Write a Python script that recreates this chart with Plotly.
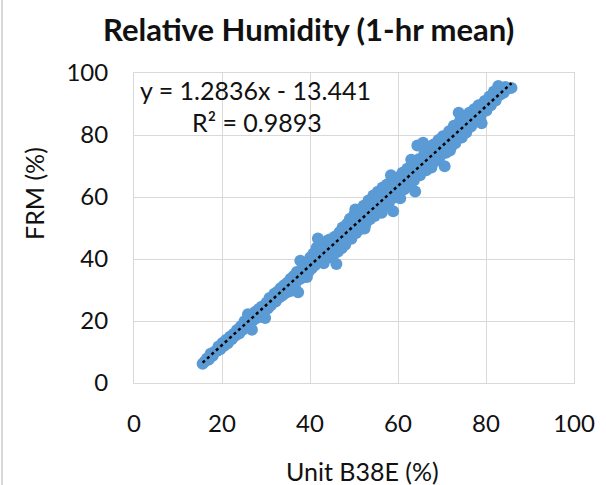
import plotly.graph_objects as go

# Hourly-mean relative humidity: sensor unit B38E (x) vs reference FRM (y), in %
unit_b38e = [
    15.6, 16.1, 16.6, 17.0, 17.4, 17.9, 18.3, 18.8, 19.2, 19.6, 20.1, 20.5, 20.9, 21.3,
    21.8, 22.2, 22.6, 23.0, 23.4, 23.9, 24.3, 24.7, 25.1, 25.5, 25.9, 26.2, 26.6, 26.8,
    27.1, 27.5, 27.9, 28.3, 28.6, 29.0, 29.4, 29.8, 30.1, 30.4,
    30.8, 31.1, 31.5, 31.9, 32.2, 32.6, 33.0, 33.3, 33.7, 34.1, 34.4, 34.8, 35.2, 35.6,
    35.9, 36.3, 36.6, 37.0, 37.3, 37.6, 37.8, 38.1, 38.4, 38.8, 39.1, 39.5, 39.8, 40.1,
    40.4, 40.8, 41.1, 41.5, 41.8, 42.1, 42.4, 42.8, 43.1, 43.5, 43.8, 44.2, 44.5, 44.9,
    45.2, 45.6, 46.0, 45.9, 46.3, 44.0, 39.3, 35.4,
    46.7, 47.0, 47.4, 47.7, 48.0, 48.4, 48.7, 49.1, 49.4, 49.8, 50.1, 50.5, 50.8, 51.2,
    51.5, 51.9, 52.2, 52.6, 52.9, 53.3, 53.6, 54.0, 54.4, 54.7, 55.1, 55.4, 55.8, 56.1,
    56.5, 56.8, 57.2, 57.5, 57.9, 58.2, 58.6, 58.9, 59.2, 59.6, 60.0, 60.3, 60.7, 61.0,
    61.4, 61.7, 47.2, 50.3, 52.4, 54.2, 56.3, 58.4, 60.5, 49.0,
    62.1, 62.4, 62.8, 63.2, 63.6, 63.9, 64.2, 64.4, 64.7, 65.0, 65.4, 65.7, 66.0, 66.4,
    66.7, 67.1, 67.4, 67.8, 68.1, 68.5, 68.8, 69.2, 69.5, 69.9, 70.2, 70.6, 70.9, 71.3,
    71.6, 72.0, 72.3, 72.7, 73.0, 73.4, 73.8, 74.1, 74.5, 74.8, 63.0, 67.6, 71.8,
    75.2, 75.5, 75.9, 76.2, 76.6, 76.9, 77.3, 77.6, 78.0, 78.3, 78.7, 79.0, 79.4, 79.7,
    80.1, 80.4, 80.8, 81.1, 81.5, 81.8, 82.2, 82.5, 82.8, 83.2, 83.6, 84.0, 84.4, 84.9,
    85.8,
]
frm = [
    6.2, 6.9, 7.9, 7.6, 9.4, 8.8, 10.1, 10.3, 11.8, 10.9, 12.9, 12.0, 13.9, 12.8,
    14.9, 14.1, 15.8, 15.2, 17.1, 16.0, 18.3, 17.2, 19.9, 18.4, 22.2, 19.3, 21.5, 17.2,
    20.3, 22.9, 21.0, 23.8, 21.6, 24.6, 22.7, 21.0, 25.9, 24.0,
    27.4, 25.1, 26.9, 28.8, 26.3, 29.4, 27.6, 30.6, 28.2, 31.5, 29.0, 32.3, 30.1, 33.6,
    31.0, 34.5, 31.8, 35.8, 29.3, 33.5, 39.4, 36.4, 34.0, 37.9, 35.2, 39.0, 36.1, 40.6,
    37.0, 41.8, 38.0, 43.6, 46.6, 39.2, 44.2, 41.5, 38.6, 45.1, 42.0, 40.5, 46.3, 43.4,
    41.1, 47.2, 38.4, 44.0, 42.3, 46.0, 34.2, 29.6,
    48.6, 45.1, 50.2, 46.9, 44.6, 51.3, 48.0, 53.0, 46.5, 50.6, 54.4, 48.4, 52.3, 55.8,
    49.7, 53.6, 57.2, 51.2, 55.0, 58.9, 52.8, 56.4, 60.5, 53.9, 57.8, 61.7, 55.6, 59.3,
    63.1, 56.7, 60.6, 64.0, 58.1, 62.0, 65.4, 55.4, 59.8, 63.6, 66.3, 61.2, 64.9, 67.8,
    62.5, 66.2, 43.5, 56.0, 49.8, 58.6, 54.9, 67.0, 59.6, 52.4,
    69.1, 64.0, 67.5, 70.6, 65.3, 61.8, 68.9, 76.6, 72.2, 67.0, 70.3, 77.5, 74.0, 68.6,
    71.9, 75.2, 70.1, 73.5, 76.9, 71.6, 75.0, 78.4, 73.0, 76.5, 79.6, 69.9, 74.3, 78.0,
    81.2, 75.9, 79.5, 83.0, 77.3, 80.9, 87.2, 84.6, 79.2, 82.5, 72.0, 69.5, 75.0,
    85.6, 80.8, 84.0, 87.2, 82.7, 85.8, 88.3, 84.4, 87.5, 89.6, 85.9, 83.8, 88.6, 91.0,
    87.9, 90.2, 92.4, 89.6, 91.8, 94.0, 91.1, 93.2, 95.8, 93.0, 94.9, 93.6, 95.5, 95.0,
    95.2,
]

# Linear trendline coefficients as printed on the chart
slope = 1.2836
intercept = -13.441
r_squared = 0.9893

axis_ticks = [0, 20, 40, 60, 80, 100]

FONT = "Lato"
TEXT = "#111111"
GRID = "#D9D9D9"
BLUE = "#5B9BD5"

x_lo, x_hi = min(unit_b38e), max(unit_b38e)
trend_x = [x_lo, x_hi]
trend_y = [slope * v + intercept for v in trend_x]

fig = go.Figure()
fig.add_trace(go.Scatter(
    x=unit_b38e, y=frm, mode="markers",
    marker=dict(color=BLUE, size=12, line=dict(width=0)),
    showlegend=False, hoverinfo="x+y",
))
fig.add_trace(go.Scatter(
    x=trend_x, y=trend_y, mode="lines",
    line=dict(color="#000000", width=2.5, dash="dot"),
    showlegend=False, hoverinfo="skip",
))

W, H = 606, 485
L, R, T, B = 134, 32, 73, 102
pw, ph = W - L - R, H - T - B


def px_x(p):
    return (p - L) / pw


def px_y(p):
    return (H - B - p) / ph


axis_common = dict(
    range=[0, 100], tickvals=axis_ticks, ticktext=[str(t) for t in axis_ticks],
    showgrid=True, gridcolor=GRID, gridwidth=1,
    showline=True, linecolor=GRID, linewidth=1, mirror=True,
    zeroline=False, ticks="",
    tickfont=dict(family=FONT, size=24, color=TEXT),
    fixedrange=True,
)

fig.update_layout(
    width=W, height=H,
    margin=dict(l=L, r=R, t=T, b=B),
    paper_bgcolor="white", plot_bgcolor="white",
    xaxis=dict(**axis_common, ticklabelstandoff=19),
    yaxis=dict(**axis_common, ticklabelstandoff=20),
    annotations=[
        dict(text="<b>Relative Humidity (1-hr mean)</b>", xref="paper", yref="paper",
             x=px_x(308), y=px_y(29), xanchor="center", yanchor="middle", showarrow=False,
             font=dict(family=FONT, size=31, color=TEXT)),
        dict(text="Unit B38E (%)", xref="paper", yref="paper",
             x=px_x(362), y=px_y(471), xanchor="center", yanchor="middle", showarrow=False,
             font=dict(family=FONT, size=25, color=TEXT)),
        dict(text="FRM (%)", xref="paper", yref="paper", textangle=-90,
             x=px_x(34), y=px_y(194), xanchor="center", yanchor="middle", showarrow=False,
             font=dict(family=FONT, size=25, color=TEXT)),
        dict(text=f"y = {slope:.4f}x - {abs(intercept):.3f}", xref="paper", yref="paper",
             x=px_x(255), y=px_y(90), xanchor="center", yanchor="middle", showarrow=False,
             font=dict(family=FONT, size=25, color=TEXT)),
        dict(text=f"R² = {r_squared:.4f}", xref="paper", yref="paper",
             x=px_x(257), y=px_y(122), xanchor="center", yanchor="middle", showarrow=False,
             font=dict(family=FONT, size=25, color=TEXT)),
    ],
    shapes=[
        dict(type="line", xref="paper", yref="paper",
             x0=px_x(2), x1=px_x(2), y0=px_y(0), y1=px_y(H),
             line=dict(color=GRID, width=2)),
    ],
)

fig.write_html("out.html", config={"displayModeBar": False})
